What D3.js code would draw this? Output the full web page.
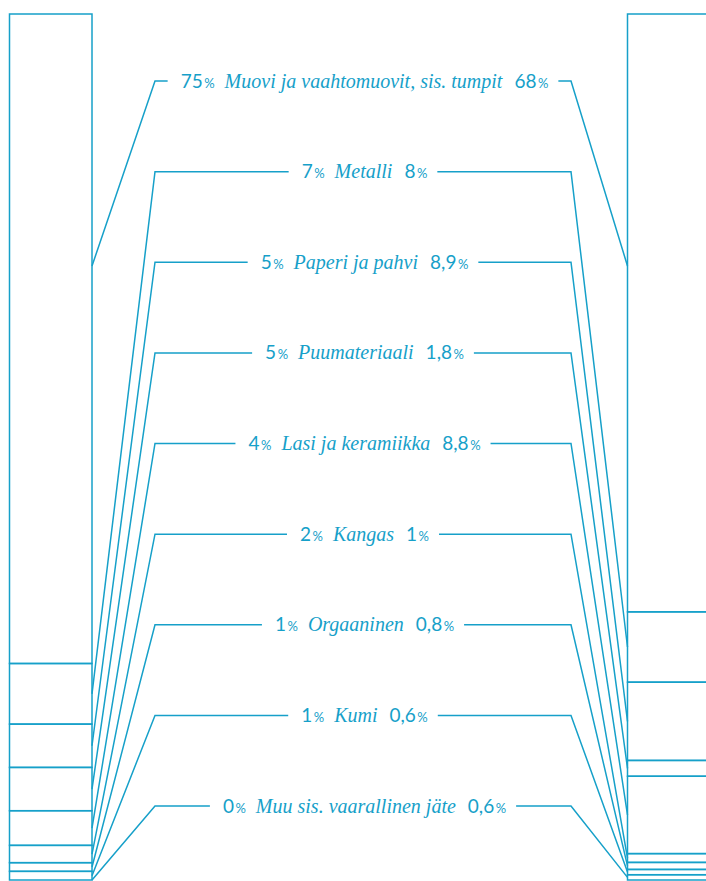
<!DOCTYPE html>
<html>
<head>
<meta charset="utf-8">
<script src="https://cdn.jsdelivr.net/npm/d3@7"></script>
<style>
  html, body { margin: 0; padding: 0; background: #ffffff; }
  svg { display: block; }
  .num { font-family: Lato, "Open Sans", sans-serif; font-weight: 400; }
  .name { font-family: "Liberation Serif", "Times New Roman", serif; font-style: italic; font-weight: 400; }
</style>
</head>
<body>
<svg id="chart" width="706" height="881"></svg>
<script>
// ---- data ----
const categories = [
  "Muovi ja vaahtomuovit, sis. tumpit",
  "Metalli",
  "Paperi ja pahvi",
  "Puumateriaali",
  "Lasi ja keramiikka",
  "Kangas",
  "Orgaaninen",
  "Kumi",
  "Muu sis. vaarallinen jäte"
];
const leftValues  = [75, 7, 5, 5, 4, 2, 1, 1, 0];
const rightValues = [68, 8, 8.9, 1.8, 8.8, 1, 0.8, 0.6, 0.6];

// ---- layout ----
const color = "#16a0c9";
const sw = 1.5;
const barTop = 14, barBottom = 880;
const leftBar = { x0: 9.5, x1: 92 };
const rightBar = { x0: 627.5, x1: 712 };
const elbowL = 155, elbowR = 571;
const maxAnchorOffset = 252;
const gap = 13;

const svg = d3.select("#chart");
const fmt = d3.formatLocale({ decimal: ",", thousands: " ", grouping: [3], currency: ["", ""] }).format("~g");

function stack(values) {
  let acc = 0;
  return values.map(v => { const s = { start: acc, end: acc + v }; acc += v; return s; });
}
const leftStack = stack(leftValues);
const rightStack = stack(rightValues);
const yL = d3.scaleLinear().domain([0, d3.sum(leftValues)]).range([barTop, barBottom]);
const yR = d3.scaleLinear().domain([0, d3.sum(rightValues)]).range([barTop, barBottom]);
const rowY = d3.scalePoint().domain(categories).range([81, 806]);

function drawBar(stackData, y, bar) {
  svg.append("g").selectAll("rect").data(stackData).join("rect")
    .attr("x", bar.x0).attr("width", bar.x1 - bar.x0)
    .attr("y", d => y(d.start)).attr("height", d => y(d.end) - y(d.start))
    .attr("fill", "none").attr("stroke", color).attr("stroke-width", sw);
}
drawBar(leftStack, yL, leftBar);
drawBar(rightStack, yR, rightBar);

function anchor(s, y) {
  const top = y(s.start), h = y(s.end) - y(s.start);
  return top + Math.min(h / 2, maxAnchorOffset);
}

const cx = (elbowL + elbowR) / 2;
const labels = svg.append("g");
categories.forEach((cat, i) => {
  const ry = rowY(cat);
  const t = labels.append("text")
    .attr("y", ry + 6.5)
    .attr("fill", color);
  const num = (v, dx) => {
    t.append("tspan").attr("class", "num").attr("dx", dx).style("font-size", "19px").text(fmt(v));
    t.append("tspan").attr("class", "num").attr("dx", 1.5).style("font-size", "13px").text("%");
  };
  num(leftValues[i], 0);
  t.append("tspan").attr("class", "name").attr("dx", 10).style("font-size", "20px").text(cat);
  num(rightValues[i], 12);
  const w = t.node().getComputedTextLength() + 22;
  t.attr("x", cx - w / 2);
  const lx = cx - w / 2 - gap, rx = cx + w / 2 + gap;
  svg.append("path")
    .attr("d", `M${lx},${ry}H${elbowL}L${leftBar.x1},${anchor(leftStack[i], yL)}`)
    .attr("fill", "none").attr("stroke", color).attr("stroke-width", sw).attr("stroke-linejoin", "miter");
  svg.append("path")
    .attr("d", `M${rx},${ry}H${elbowR}L${rightBar.x0},${anchor(rightStack[i], yR)}`)
    .attr("fill", "none").attr("stroke", color).attr("stroke-width", sw).attr("stroke-linejoin", "miter");
});
</script>
</body>
</html>
